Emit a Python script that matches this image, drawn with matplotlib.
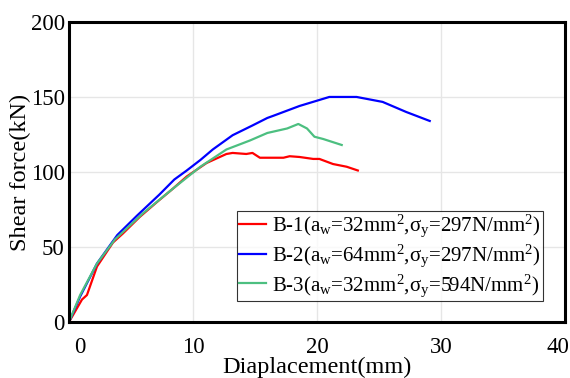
import matplotlib
matplotlib.use("Agg")
import matplotlib.pyplot as plt
from matplotlib.transforms import ScaledTranslation

# Load-displacement data
b1_x = [0, 1.05, 1.45, 2.26, 3.55, 4.35, 5.7, 7.1, 8.4, 9.5, 11.1, 12.7, 13.2, 14.3, 14.8, 15.4,
        17.3, 17.8, 18.6, 19.7, 20.2, 21.3, 22.4, 23.3]
b1_y = [0, 15, 18, 37, 53, 59, 70, 80, 89, 97, 106, 112, 112.7, 112, 112.7, 109.5,
        109.5, 110.5, 110, 108.7, 108.7, 105.3, 103.5, 101]

b2_x = [0, 0.9, 2.26, 3.9, 5.5, 7.3, 8.5, 9.5, 10.6, 11.6, 13.2, 14.8, 16.0, 16.5, 18.6,
        21.0, 23.2, 25.3, 27.2, 29.1]
b2_y = [0, 17, 39, 58, 71, 85, 95, 101, 108, 115, 124.5, 131, 136, 137.5, 144,
        150, 150, 146.7, 140, 134]

b3_x = [0, 0.9, 2.26, 3.7, 6.0, 8.4, 10.6, 12.7, 14.6, 16.0, 17.6, 18.5, 19.2, 19.8, 20.5, 22.0]
b3_y = [0, 18, 39, 55, 72.7, 89, 103.5, 115, 121, 126, 129, 132, 129, 123.5, 122, 118]

labels = [r"B-1(a$_\mathregular{w}$=32mm$^\mathregular{2}$,$\mathregular{\sigma_y}$=297N/mm$^\mathregular{2}$)",
          r"B-2(a$_\mathregular{w}$=64mm$^\mathregular{2}$,$\mathregular{\sigma_y}$=297N/mm$^\mathregular{2}$)",
          r"B-3(a$_\mathregular{w}$=32mm$^\mathregular{2}$,$\mathregular{\sigma_y}$=594N/mm$^\mathregular{2}$)"]
colors = ["#ff0000", "#0000ff", "#4cbf80"]

plt.rcParams["font.family"] = "Liberation Serif"
plt.rcParams["mathtext.fontset"] = "custom"
plt.rcParams["mathtext.rm"] = "Liberation Serif"
plt.rcParams["mathtext.it"] = "Liberation Serif"

fig = plt.figure(figsize=(5.7, 3.78), dpi=100)
ax = fig.add_axes([0.121, 0.148, 0.870, 0.794])

for xs, ys, c, lab in zip([b1_x, b2_x, b3_x], [b1_y, b2_y, b3_y], colors, labels):
    ax.plot(xs, ys, color=c, lw=1.6, label=lab)

ax.set_xlim(0, 40)
ax.set_ylim(0, 200)
ax.set_xticks([0, 10, 20, 30, 40])
ax.set_yticks([0, 50, 100, 150, 200])
ax.grid(True, color="#e6e6e6", lw=1)
ax.set_axisbelow(True)
ax.tick_params(length=0, labelsize=16.5)
ax.tick_params(axis="x", pad=11)
ax.tick_params(axis="y", pad=3)
for s in ax.spines.values():
    s.set_linewidth(2.2)
    s.set_color("black")

# nudge the end x tick labels inward (in inches)
ticks = ax.xaxis.get_major_ticks()
for tk, dx in [(ticks[0], 0.11), (ticks[-1], -0.07)]:
    tk.label1.set_transform(tk.label1.get_transform() + ScaledTranslation(dx, 0, fig.dpi_scale_trans))

ax.set_xlabel("Diaplacement(mm)", fontsize=17.5, labelpad=-1)
ax.set_ylabel("Shear force(kN)", fontsize=17.5, labelpad=0)

leg = ax.legend(loc="lower right", bbox_to_anchor=(0.956, 0.07), fontsize=15,
                frameon=True, fancybox=False, edgecolor="black", handlelength=1.3,
                handletextpad=0.3, borderpad=0.1, labelspacing=0.15, borderaxespad=0)
leg.get_frame().set_linewidth(0.8)

fig.savefig("out.png", dpi=100)
